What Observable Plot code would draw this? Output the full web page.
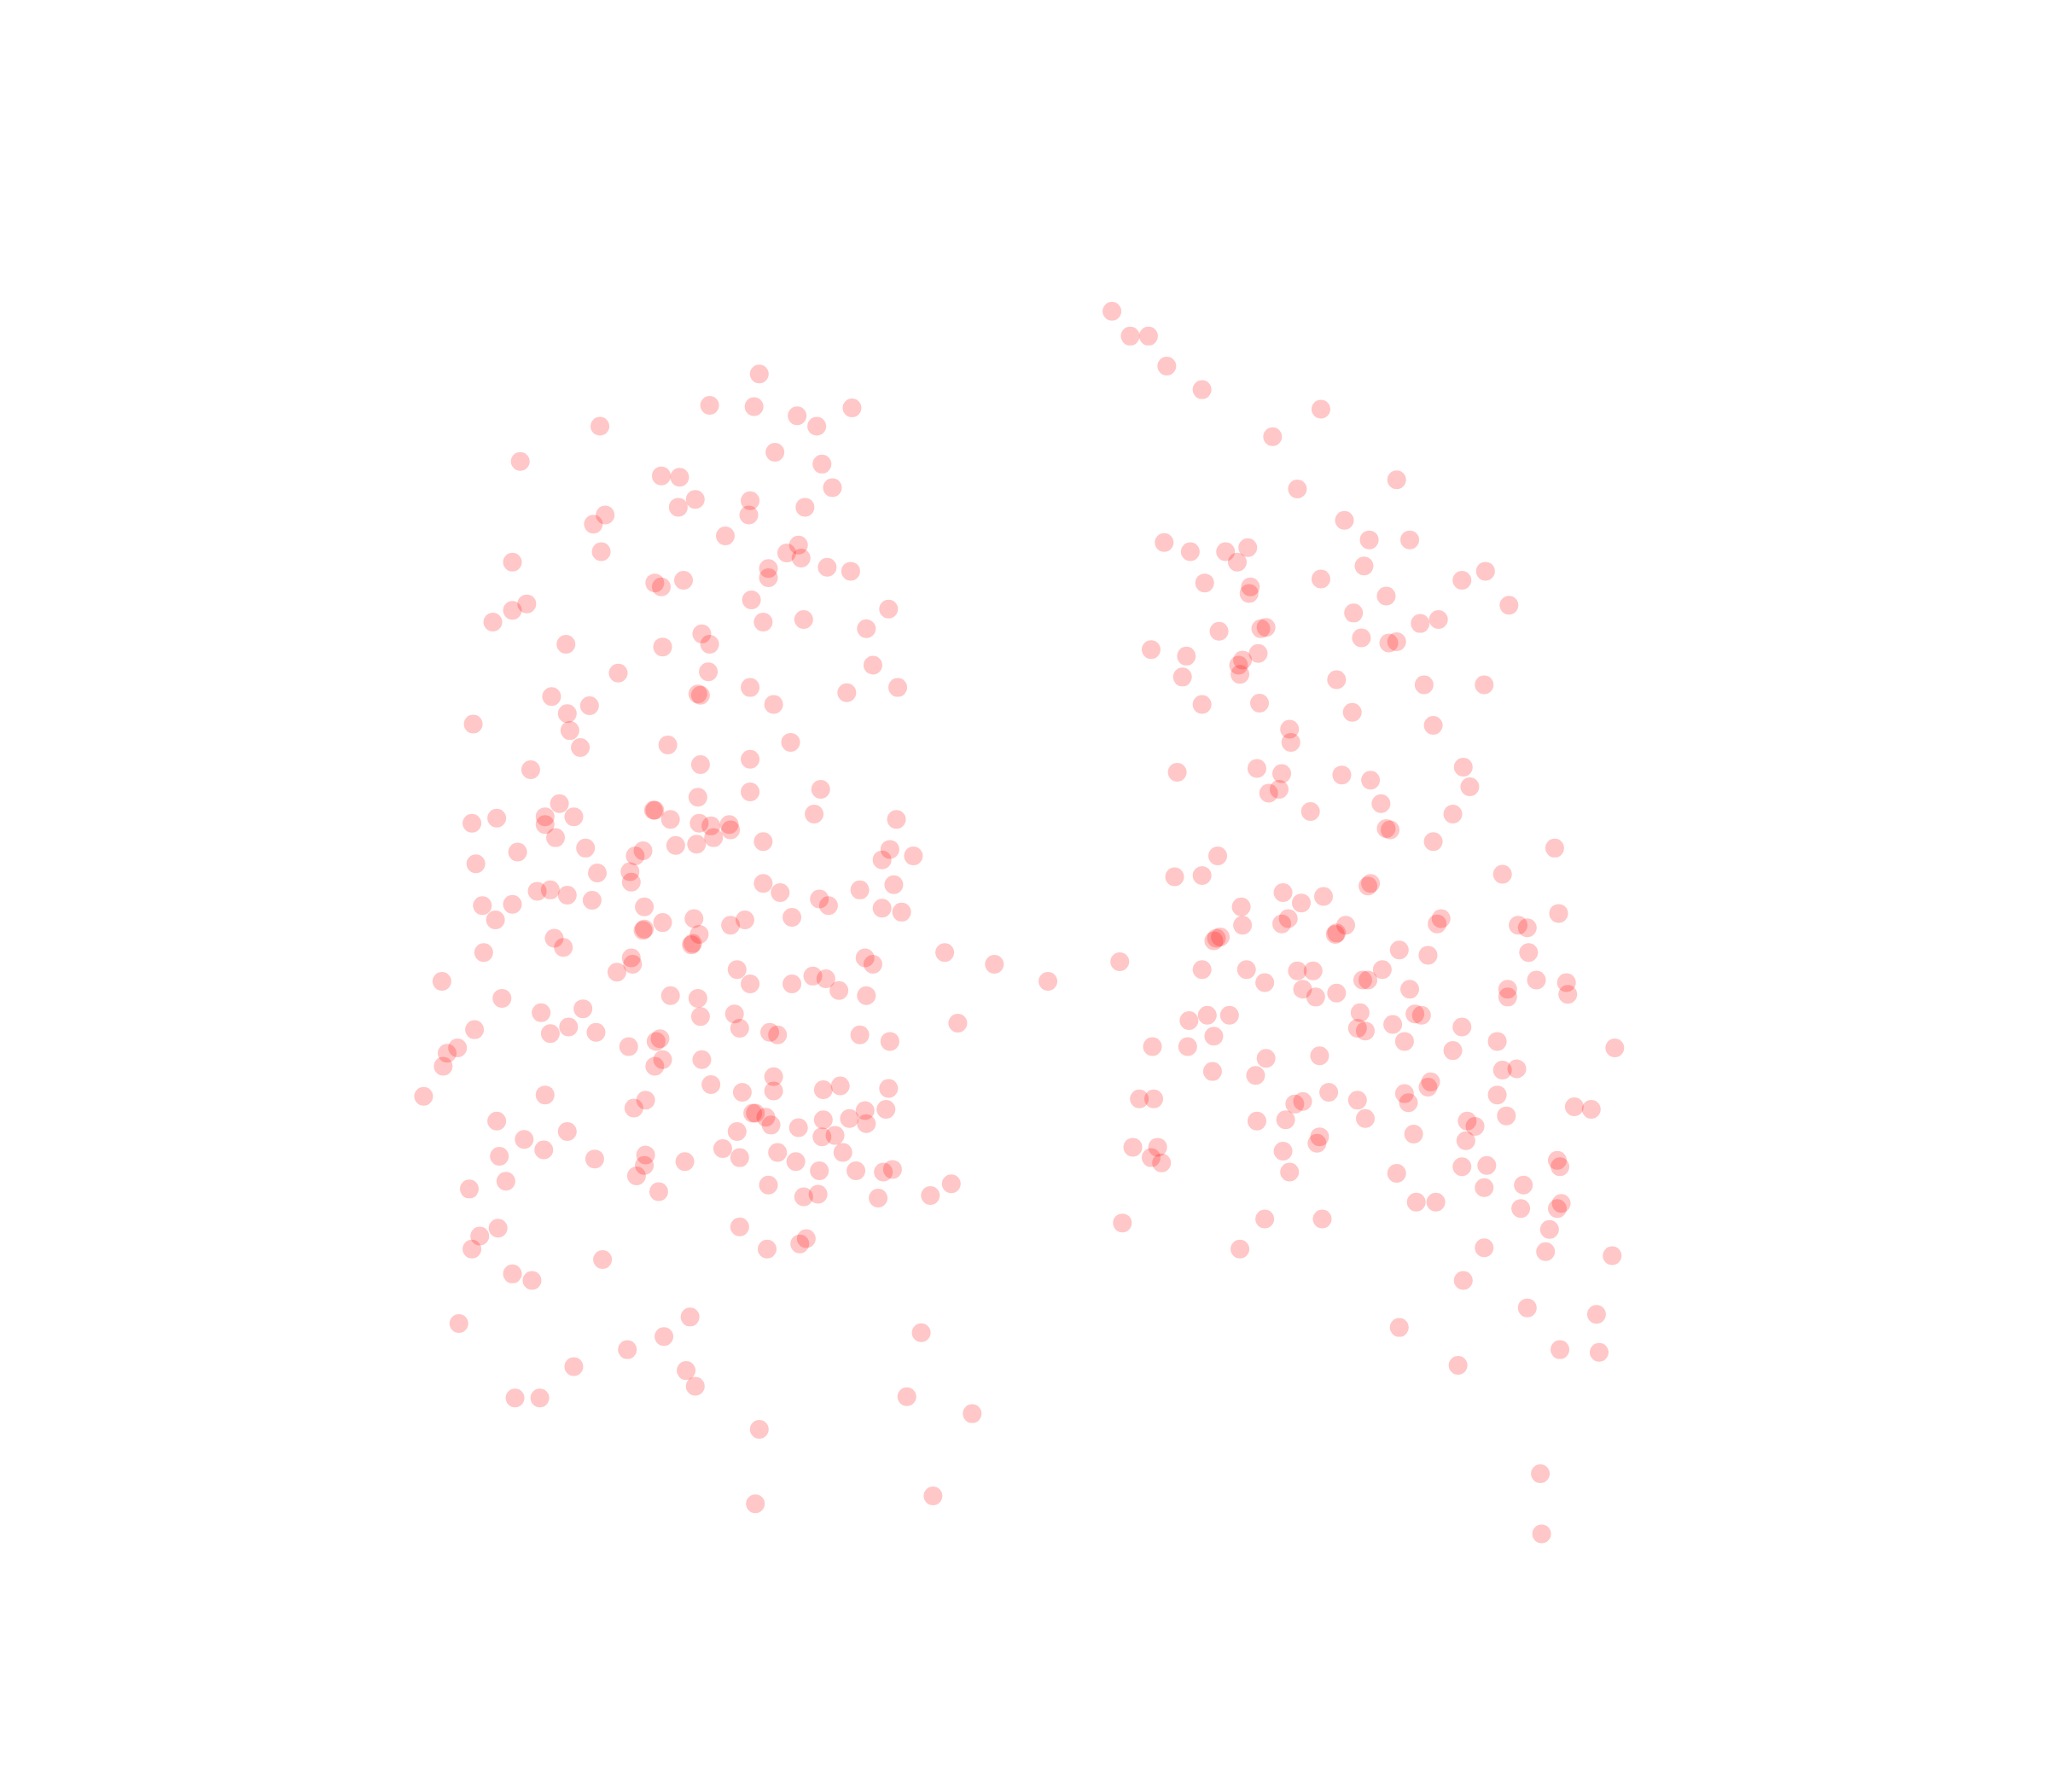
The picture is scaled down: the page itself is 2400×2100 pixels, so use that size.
<!DOCTYPE html>
<html><head><meta charset="utf-8">
<style>html,body{margin:0;padding:0;background:#fff}svg{display:block}</style>
<script src="https://cdn.jsdelivr.net/npm/d3@7"></script>
<script src="https://cdn.jsdelivr.net/npm/@observablehq/plot@0.6"></script>
</head><body><div id="chart"></div>
<script>
const rightPoints = [851,238,865,257,879,257,893,280,920,298,1011,313,974,334,1069,367,993,374,1029,398,1048,413,1079,413,891,415,911,422,938,422,955,419,947,430,1044,433,1137,437,1119,444,1011,443,922,446,957,449,956,454,1061,456,1155,463,1036,469,1101,474,1087,477,965,481,969,480,933,483,1042,488,1063,492,1069,491,881,497,908,502,963,500,951,505,948,509,949,516,905,518,1023,520,1090,524,1136,524,920,539,964,538,1035,545,1097,555,987,558,988,568,901,591,962,588,981,592,1027,593,1049,597,1120,587,1125,602,971,607,979,604,1057,615,1003,621,1112,623,1061,634,1064,635,1097,644,1190,649,932,655,1150,669,899,671,920,670,1049,676,1047,678,982,683,1013,686,996,691,950,694,1193,699,1103,703,1100,707,986,703,981,707,951,708,1162,708,1169,710,1030,708,1023,714,1022,715,934,717,931,718,929,720,1071,727,1170,729,1093,731,857,736,920,742,954,742,993,743,1005,743,1058,742,1043,750,1047,750,968,752,1176,750,1199,752,1154,757,1079,757,997,757,1007,763,1023,760,1200,761,1154,763,1041,775,1083,776,1088,777,924,777,941,777,910,781,1066,784,1039,787,1045,789,1119,786,929,793,1075,797,1146,797,882,801,909,801,1236,802,1112,804,969,810,1010,808,928,820,961,823,1150,819,1161,818,1095,828,1093,832,1017,836,1075,837,1146,838,872,841,883,841,1039,842,1078,844,991,845,997,843,1205,847,1218,849,1045,856,1153,854,962,858,984,857,1123,858,1129,862,1082,868,1122,873,1010,870,1008,875,867,878,886,878,881,886,889,890,982,881,1192,888,1119,893,1138,892,1194,893,987,897,1069,898,1136,909,1166,907,1084,920,1099,920,1195,921,1192,925,1164,925,968,933,1012,933,859,936,1186,941,949,956,1136,955,1183,958,1234,961,1120,980,1169,1001,1222,1006,1071,1016,1194,1033,1224,1035,1116,1045,1179,1128,1180,1174];
const leftPoints = [581,286,543,310,577,311,652,312,610,318,625,326,459,326,593,346,398,353,629,355,506,364,520,365,637,373,532,382,574,383,519,388,616,388,463,394,573,394,454,401,555,410,611,417,602,423,460,422,613,427,392,430,633,434,588,435,651,437,588,442,501,446,506,449,523,444,403,462,575,459,392,467,377,476,680,466,584,476,615,474,663,481,537,485,543,493,433,493,507,495,668,509,473,515,542,514,574,526,687,526,648,530,422,533,534,531,536,532,592,539,451,540,434,546,362,554,436,559,444,572,511,570,605,568,536,585,574,581,406,589,628,604,574,606,534,610,428,615,500,620,501,620,623,623,686,627,361,630,380,626,417,625,417,631,439,625,513,627,535,630,544,632,558,631,559,635,425,641,546,641,517,647,533,646,584,644,448,649,396,652,681,650,699,655,486,655,492,651,675,658,364,661,482,667,457,668,483,675,584,676,684,677,411,682,421,681,434,685,597,683,658,681,627,688,369,693,392,692,453,689,493,694,634,693,675,695,690,698,379,704,606,702,531,703,570,704,559,708,507,706,493,711,492,712,535,715,424,718,431,725,529,723,530,722,370,729,723,729,483,733,484,738,662,733,668,738,761,738,472,744,564,742,338,751,802,751,622,747,632,749,574,753,606,753,642,758,513,762,534,764,663,762,384,764,414,775,446,772,562,776,536,778,733,783,363,788,435,786,421,791,456,790,566,787,589,790,595,792,658,792,505,795,502,797,681,797,350,802,481,801,342,806,507,811,537,811,339,816,501,816,592,824,544,830,324,839,417,838,568,836,592,835,630,834,643,831,680,833,494,842,485,848,662,850,678,849,576,852,578,852,586,855,380,858,590,861,611,863,630,857,650,856,663,860,434,866,564,866,629,870,639,869,401,872,416,880,553,879,645,882,595,882,382,885,455,887,494,884,566,886,524,889,609,889,493,892,627,896,655,896,676,897,683,895,487,900,387,904,588,907,728,906,359,910,504,912,712,915,626,914,615,916,672,917,381,940,566,939,367,946,617,948,612,952,361,956,587,956,461,964,392,975,407,980,528,1008,351,1013,705,1020,508,1023,480,1033,439,1046,525,1049,532,1061,394,1070,413,1070,694,1069,744,1082,581,1094,714,1145,578,1151];
const toPairs = a => d3.range(0, a.length, 2).map(i => ({x: a[i], y: a[i + 1]}));
const points = [...toPairs(leftPoints), ...toPairs(rightPoints)];
const chart = Plot.plot({
  width: 2400, height: 2100,
  marginTop: 0, marginRight: 0, marginBottom: 0, marginLeft: 0,
  x: {domain: [0, 1568], axis: null},
  y: {domain: [0, 1372], reverse: true, axis: null},
  style: {background: "#fff"},
  marks: [Plot.dot(points, {x: "x", y: "y", r: 11, fill: "#ff0000", fillOpacity: 0.22, stroke: "none"})]
});
document.getElementById("chart").append(chart);
</script></body></html>
